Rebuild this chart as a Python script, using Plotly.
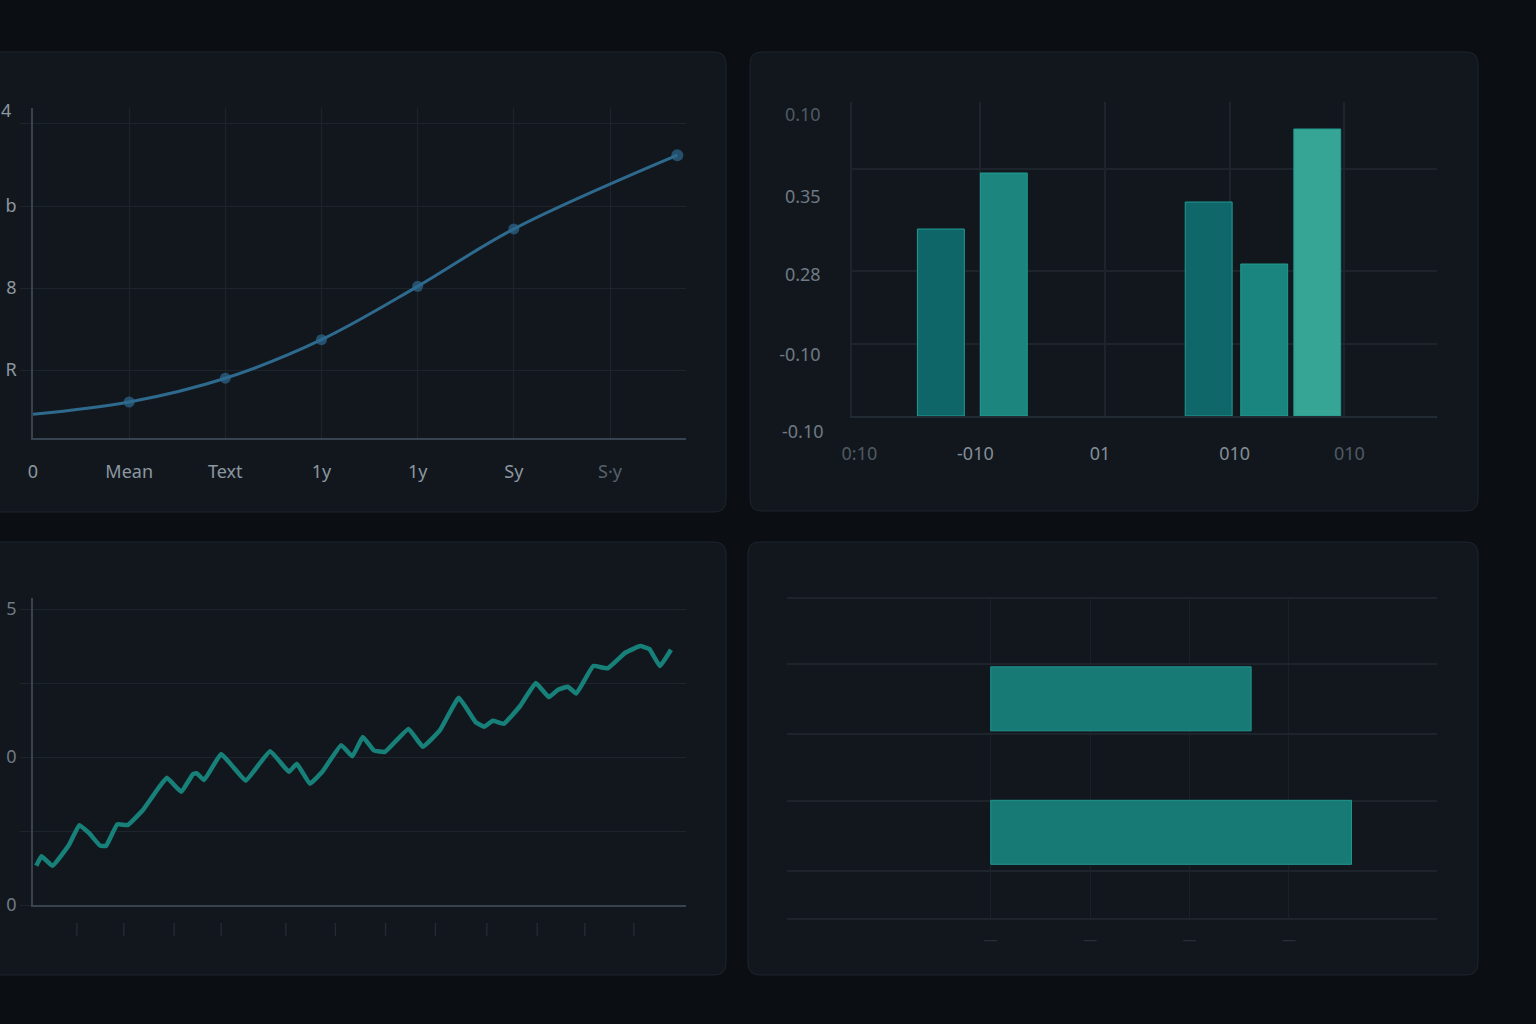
import plotly.graph_objects as go

# ---------------- data ----------------
# Panel 1: smooth line with markers
p1_x = [0, 1, 2, 3, 4, 5, 6.7]
p1_y = [0.46, 0.61, 0.90, 1.37, 2.02, 2.72, 3.62]
p1_xticks = [0, 1, 2, 3, 4, 5, 6]
p1_xlabels = ["0", "Mean", "Text", "1y", "1y", "Sy", "S\u00b7y"]
p1_yticks = [1, 2, 3, 4]
p1_ylabels = ["R", "8", "b", ""]
p1_top_label = "4"

# Panel 2: vertical bars
p2_x = [0.72, 1.23, 2.89, 3.34, 3.77]
p2_y = [1.87, 2.43, 2.14, 1.52, 2.87]
p2_colors = ["#0f6669", "#1b857e", "#0f6769", "#1a857e", "#36a595"]
p2_xticks = [0.06, 1.0, 2.01, 3.1, 4.03]
p2_xlabels = ["0:10", "-010", "01", "010", "010"]
p2_xgrid = [1.04, 2.05, 3.06, 3.99]
p2_yticks = [3.01, 2.19, 1.41, 0.61]
p2_ylabels = ["0.10", "0.35", "0.28", "-0.10"]
p2_ygrid = [0.72, 1.45, 2.47, 3.13]
p2_bottom_label = "-0.10"

# Panel 3: noisy rising line
p3_x = [0.5, 1.3, 3.0, 5.5, 7.1, 8.6, 10.3, 11.2, 12.9, 14.5, 16.8, 18.8, 20.5,
        22.7, 24.5, 25.1, 26.2, 28.8, 30.8, 32.6, 36.3, 39.2, 40.4, 42.4, 44.3,
        47.2, 48.9, 50.5, 52.2, 53.9, 57.5, 59.7, 62.3, 65.2, 67.8, 69.1, 70.4,
        72.1, 74.6, 77.0, 79.0, 80.4, 81.9, 83.2, 85.8, 88.0, 90.7, 93.0, 94.4,
        96.0, 97.7]
p3_y = [0.53, 0.66, 0.53, 0.81, 1.08, 0.97, 0.80, 0.80, 1.09, 1.08, 1.28, 1.53,
        1.72, 1.53, 1.77, 1.78, 1.69, 2.04, 1.85, 1.68, 2.08, 1.80, 1.91, 1.64,
        1.80, 2.16, 2.01, 2.27, 2.09, 2.07, 2.38, 2.14, 2.36, 2.80, 2.47, 2.41,
        2.49, 2.45, 2.69, 3.00, 2.81, 2.91, 2.95, 2.86, 3.23, 3.20, 3.41, 3.50,
        3.46, 3.23, 3.45]
p3_xticks = [6.7, 13.9, 21.6, 28.8, 38.7, 46.3, 54.0, 61.6, 69.5, 77.2, 84.5, 92.0]
p3_yticks = [0, 1, 2, 3, 4]
p3_ylabels = ["0", "", "0", "", "5"]

# Panel 4: horizontal bars
p4_y = [3.26, 1.28]
p4_x = [2.62, 3.63]
p4_xticks = [0, 1, 2, 3]
p4_ygrid = [0, 0.7, 1.74, 2.74, 3.78, 4.75]

# ---------------- layout helpers ----------------
W, H = 1536, 1024
BG = "#0b0f14"
CARD = "#12171e"
CARD_EDGE = "#1d242c"
GRID = "#1d242c"
AXIS = "#37444f"
FONT = "Noto Sans"


def dx(a, b):
    return [a / W, b / W]


def dy(top, bottom):
    return [1 - bottom / H, 1 - top / H]


def rounded(x0, y0, x1, y1, r):
    X = lambda v: v / W
    Y = lambda v: 1 - v / H
    return (f"M {X(x0 + r)} {Y(y0)} L {X(x1 - r)} {Y(y0)} Q {X(x1)} {Y(y0)} {X(x1)} {Y(y0 + r)} "
            f"L {X(x1)} {Y(y1 - r)} Q {X(x1)} {Y(y1)} {X(x1 - r)} {Y(y1)} "
            f"L {X(x0 + r)} {Y(y1)} Q {X(x0)} {Y(y1)} {X(x0)} {Y(y1 - r)} "
            f"L {X(x0)} {Y(y0 + r)} Q {X(x0)} {Y(y0)} {X(x0 + r)} {Y(y0)} Z")


fig = go.Figure()

# Panel 1
fig.add_trace(go.Scatter(
    x=p1_x, y=p1_y, mode="lines+markers",
    line=dict(color="#2e6a8e", width=3, shape="spline", smoothing=1.0),
    marker=dict(color="#2e6a8e", size=[0, 11, 11, 11, 11, 11, 12], line=dict(width=0)),
    xaxis="x", yaxis="y", showlegend=False, hoverinfo="skip"))

# Panel 2
fig.add_trace(go.Bar(
    x=p2_x, y=p2_y, width=0.38,
    marker=dict(color=p2_colors, line=dict(color="#1e9c93", width=1)),
    xaxis="x2", yaxis="y2", showlegend=False, hoverinfo="skip"))

# Panel 3
fig.add_trace(go.Scatter(
    x=p3_x, y=p3_y, mode="lines",
    line=dict(color="#168079", width=4.5, shape="spline", smoothing=0.3),
    xaxis="x3", yaxis="y3", showlegend=False, hoverinfo="skip"))

# Panel 4
fig.add_trace(go.Bar(
    x=p4_x, y=p4_y, base=0, orientation="h", width=0.95,
    marker=dict(color="#177a74", line=dict(color="#1f968f", width=1)),
    xaxis="x4", yaxis="y4", showlegend=False, hoverinfo="skip"))

tickfont = dict(family=FONT, size=18, color="#8c97a1")

shapes = [
    dict(type="path", path=rounded(-30, 52, 726, 512, 12), xref="paper", yref="paper",
         fillcolor=CARD, line=dict(color=CARD_EDGE, width=1), layer="below"),
    dict(type="path", path=rounded(750, 52, 1478, 511, 12), xref="paper", yref="paper",
         fillcolor=CARD, line=dict(color=CARD_EDGE, width=1), layer="below"),
    dict(type="path", path=rounded(-30, 542, 726, 975, 12), xref="paper", yref="paper",
         fillcolor=CARD, line=dict(color=CARD_EDGE, width=1), layer="below"),
    dict(type="path", path=rounded(748, 542, 1478, 975, 12), xref="paper", yref="paper",
         fillcolor=CARD, line=dict(color=CARD_EDGE, width=1), layer="below"),
]

p1_xtext = [t if i < len(p1_xlabels) - 1 else f"<span style='color:#56616b'>{t}</span>"
            for i, t in enumerate(p1_xlabels)]
p2_xtext = [f"<span style='color:#4f5a63'>{t}</span>" if i in (0, len(p2_xlabels) - 1) else t
            for i, t in enumerate(p2_xlabels)]
p2_ytext = [f"<span style='color:#4f5a63'>{t}</span>" if i == 0 else t
            for i, t in enumerate(p2_ylabels)]

fig.update_layout(
    width=W, height=H,
    margin=dict(l=0, r=0, t=0, b=0),
    paper_bgcolor=BG, plot_bgcolor="rgba(0,0,0,0)",
    template="none",
    font=dict(family=FONT, color="#8c97a1"),
    shapes=shapes,
    xaxis=dict(domain=dx(33, 686), range=[0, 6.79], anchor="y",
               tickmode="array", tickvals=p1_xticks, ticktext=p1_xtext,
               showgrid=True, gridcolor=GRID, gridwidth=1, zeroline=False,
               showline=True, linecolor=AXIS, linewidth=1.5,
               ticks="", ticklabelstandoff=17, tickfont=tickfont, automargin=False),
    yaxis=dict(domain=dy(108, 438), range=[0.171, 4.195], anchor="x",
               tickmode="array", tickvals=p1_yticks, ticktext=p1_ylabels,
               showgrid=True, gridcolor=GRID, gridwidth=1, zeroline=False,
               showline=True, linecolor=AXIS, linewidth=1.5,
               ticks="outside", ticklen=11, tickcolor=GRID,
               ticklabelstandoff=0, tickfont=tickfont, automargin=False),
    xaxis2=dict(domain=dx(852, 1437), range=[0, 4.74], anchor="y2",
                tickmode="array", tickvals=p2_xticks, ticktext=p2_xtext,
                showgrid=False, zeroline=False,
                minor=dict(tickmode="array", tickvals=p2_xgrid, showgrid=True,
                           gridcolor=GRID, gridwidth=1.5),
                showline=True, linecolor="#222a33", linewidth=2,
                ticks="", ticklabelstandoff=20,
                tickfont=dict(family=FONT, size=18, color="#838e98"), automargin=False),
    yaxis2=dict(domain=dy(102, 416), range=[0, 3.14], anchor="x2",
                tickmode="array", tickvals=p2_yticks, ticktext=p2_ytext,
                showgrid=False, zeroline=False,
                minor=dict(tickmode="array", tickvals=p2_ygrid, showgrid=True,
                           gridcolor=GRID, gridwidth=1.5),
                showline=True, linecolor="#1e252d", linewidth=1.5,
                ticks="", ticklabelstandoff=26,
                tickfont=dict(family=FONT, size=18, color="#6f7a84"), automargin=False),
    xaxis3=dict(domain=dx(33, 686), range=[0, 100], anchor="y3",
                tickmode="array", tickvals=p3_xticks, ticktext=["|"] * len(p3_xticks),
                showgrid=False, zeroline=False,
                showline=True, linecolor=AXIS, linewidth=1.5,
                ticks="", ticklabelstandoff=12,
                tickfont=dict(family=FONT, size=12, color="#2c353f"), automargin=False),
    yaxis3=dict(domain=dy(598, 905), range=[0, 4.15], anchor="x3",
                tickmode="array", tickvals=p3_yticks, ticktext=p3_ylabels,
                showgrid=True, gridcolor=GRID, zeroline=False,
                showline=True, linecolor=AXIS, linewidth=1.5,
                ticks="outside", ticklen=11, tickcolor=GRID,
                ticklabelstandoff=0,
                tickfont=dict(family=FONT, size=18, color="#6f7a84"), automargin=False),
    xaxis4=dict(domain=dx(787, 1437), range=[-2.05, 4.49], anchor="y4",
                tickmode="array", tickvals=p4_xticks, ticktext=["\u2014"] * len(p4_xticks),
                showgrid=True, gridcolor="#1a2129", zeroline=False, showline=False,
                ticks="", ticklabelstandoff=10,
                tickfont=dict(family=FONT, size=14, color="#262f38"), automargin=False),
    yaxis4=dict(domain=dy(597, 920), range=[-0.02, 4.77], anchor="x4",
                tickmode="array", tickvals=p4_ygrid, ticktext=[""] * len(p4_ygrid),
                showgrid=True, gridcolor=GRID, gridwidth=1.5, zeroline=False,
                showline=False, ticks="", automargin=False),
    annotations=[
        dict(text=p1_top_label, xref="paper", yref="y", x=13 / W, y=4.17,
             xanchor="right", yanchor="middle", showarrow=False, font=tickfont),
        dict(text=p2_bottom_label, xref="paper", yref="paper", x=826 / W, y=1 - 431 / H,
             xanchor="right", yanchor="middle", showarrow=False,
             font=dict(family=FONT, size=18, color="#6f7a84")),
    ],
)

fig.write_html(
    "out.html",
    config={"displayModeBar": False},
    post_script="document.body.style.margin='0';document.body.style.overflow='hidden';"
                "document.body.style.background='#0b0f14';",
)
